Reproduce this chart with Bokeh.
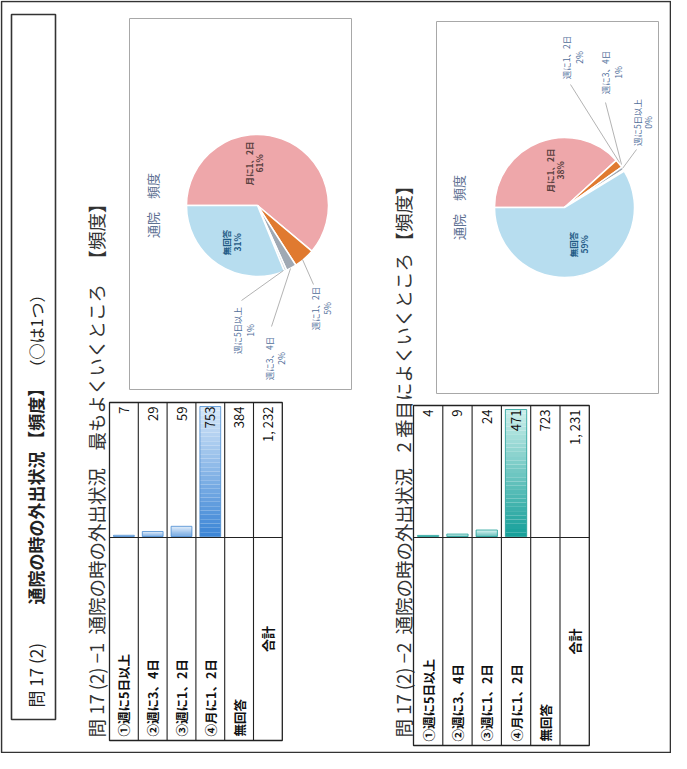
import numpy as np
from bokeh.plotting import figure
from bokeh.models import Range1d
from bokeh.core.properties import value
from bokeh.embed import file_html
from bokeh.resources import INLINE

# ---------------- data ----------------
row_labels = ["①週に5日以上", "②週に3、4日", "③週に1、2日", "④月に1、2日", "無回答"]
total_label = "合計"
counts_q1 = [7, 29, 59, 753, 384]
counts_q2 = [4, 9, 24, 471, 723]
pie_labels = ["月に1、2日", "週に1、2日", "週に3、4日", "週に5日以上", "無回答"]
pie_index = [3, 2, 1, 0, 4]          # pie slice order -> index into counts
pie_colors = ["#EEA7AA", "#E07A30", "#A0A9B4", "#D3DAE2", "#B7DDEF"]
title_parts = ["問 17 (2)", "通院の時の外出状況 【頻度】", "（○は1つ）"]
subtitle_q1 = ["問 17 (2) −1", "通院の時の外出状況", "最もよくいくところ", "【頻度】"]
subtitle_q2 = ["問 17 (2) −2", "通院の時の外出状況", "2 番目によくいくところ", "【頻度】"]
chart_title = "通院　頻度"

# ---------------- layout ----------------
W, H = 671, 753
FONT = value("Noto Sans CJK JP")
UP = np.pi / 2

p = figure(width=W, height=H, x_range=Range1d(8, 8 + W), y_range=Range1d(8, 8 + H),
           output_backend="svg", toolbar_location=None, min_border=0,
           x_axis_location=None, y_axis_location=None, outline_line_color=None,
           background_fill_color="white", border_fill_color="white")
p.grid.visible = False


def Y(py):
    return 769 - py


def box(x0, x1, py0, py1, color, lw):
    p.quad(left=[x0], right=[x1], top=[Y(py0)], bottom=[Y(py1)],
           fill_color=None, line_color=color, line_width=lw)


def vtext(xs, pys, texts, size, align="left", color="#222", style="normal"):
    p.text(x=list(xs), y=[Y(v) for v in pys], text=list(texts), angle=UP,
           text_font=FONT, text_font_size=size, text_align=align,
           text_baseline="middle", text_color=color, text_font_style=style)


def mix(c1, c2, t):
    a = np.array([int(c1[i:i + 2], 16) for i in (1, 3, 5)], float)
    b = np.array([int(c2[i:i + 2], 16) for i in (1, 3, 5)], float)
    c = a + (b - a) * t
    return "#%02x%02x%02x" % tuple(int(round(v)) for v in c)


def fmt(v):
    return f"{v:,}".replace(",", ", ")


# page border
box(9, 678, 9, 760, "#333333", 1.6)

# title box and title
box(19, 63, 22, 727, "#333333", 1.6)
vtext([43], [715], [title_parts[0]], "17px")
vtext([43], [612], [title_parts[1]], "17px", style="bold")
vtext([43], [383], [title_parts[2]], "16px")

# subtitles (segments start positions along the page)
vtext([103] * 4, [745, 642, 458, 276], subtitle_q1, "18.5px", color="#333")
vtext([410] * 4, [745, 642, 460, 258], subtitle_q2, "18.5px", color="#333")


def draw_table(left, row_h, py_top, py_div, py_bot, counts, dark, light, edge):
    n = len(counts) + 1
    xs = [left + i * row_h for i in range(n + 1)]
    right = xs[-1]
    centers = [(xs[i] + xs[i + 1]) / 2 for i in range(n)]
    # data bars (first four rows)
    vmax = max(counts[:4])
    L = (py_div - py_top) - 5
    nseg = 30
    for i in range(4):
        length = counts[i] / vmax * L
        base = Y(py_div - 1)
        ks = np.arange(nseg)
        b = base + length * ks / nseg
        t = base + length * (ks + 1) / nseg
        cols = [mix(dark, light, k / (nseg - 1)) for k in ks]
        x0 = xs[i] + 4
        x1 = xs[i + 1] - 4
        p.quad(left=[x0] * nseg, right=[x1] * nseg, bottom=list(b), top=list(t),
               fill_color=cols, line_color=None)
        p.quad(left=[x0], right=[x1], bottom=[base], top=[base + length],
               fill_color=None, line_color=edge, line_width=0.8)
    # grid
    lc = "#222222"
    box(left, right, py_top, py_bot, lc, 1.3)
    p.segment(x0=xs[1:-1], y0=[Y(py_top)] * (n - 1), x1=xs[1:-1], y1=[Y(py_bot)] * (n - 1),
              line_color=lc, line_width=1.1)
    p.segment(x0=[left], y0=[Y(py_div)], x1=[right], y1=[Y(py_div)], line_color=lc, line_width=1.1)
    # labels
    vtext(centers[:5], [py_bot - 4] * 5, row_labels, "12.5px", style="bold", color="#111")
    vtext([centers[5]], [(py_div + py_bot) / 2], [total_label], "13px", align="center",
          style="bold", color="#111")
    vals = list(counts) + [sum(counts)]
    vtext(centers, [py_top + 4] * n, [fmt(v) for v in vals], "13px", align="right", color="#111")


draw_table(117, 28.8, 410, 545, 748, counts_q1, "#3D86D6", "#D4E6F8", "#4A8BD0")
draw_table(421, 29.3, 413, 545, 753, counts_q2, "#17A09A", "#C9EEEA", "#1E9E98")


def draw_pie(cx, cy, r, counts, frame, title_x, inside, outside, leaders):
    box(frame[0], frame[1], frame[2], frame[3], "#A8A8A8", 1.0)
    vtext([title_x], [cy], [chart_title], "13px", align="center", color="#5E7193")
    vals = np.array([counts[i] for i in pie_index], float)
    fr = vals / vals.sum()
    ends = 180 - np.cumsum(fr) * 360
    starts = np.concatenate([[180.0], ends[:-1]])
    p.wedge(x=[cx] * 5, y=[Y(cy)] * 5, radius=r, start_angle=list(np.radians(ends)),
            end_angle=list(np.radians(starts)), fill_color=pie_colors,
            line_color="white", line_width=1.5)
    pct = [f"{int(round(f * 100))}%" for f in fr]
    # leader lines
    for (a, b, c, d) in leaders:
        p.line(x=[a, c], y=[Y(b), Y(d)], line_color="#A0A0A0", line_width=0.8)
    for k, (x1, x2, py) in inside.items():
        col = "#1F5A85" if k == 4 else "#5A4040"
        vtext([x1], [py], [pie_labels[k]], "8.5px", align="center", color=col, style="bold")
        vtext([x2], [py], [pct[k]], "8.5px", align="center", color=col, style="bold")
    for k, (x1, x2, py) in outside.items():
        vtext([x1], [py], [pie_labels[k]], "8.5px", align="center", color="#4F6E9A")
        vtext([x2], [py], [pct[k]], "8.5px", align="center", color="#4F6E9A")


draw_pie(265, 213, 71, counts_q1, (137, 359, 26, 397), 160,
         {0: (256, 266, 171), 4: (233, 244, 250)},
         {1: (322, 334, 316), 2: (276, 288, 366), 3: (244, 257, 338)},
         [(310, 267, 321, 292), (298, 276, 279, 334), (291, 278, 249, 308)])

draw_pie(572, 215, 70, counts_q2, (444, 666, 29, 401), 466,
         {0: (557, 567, 178), 4: (580, 591, 252)},
         {1: (573, 586, 65), 2: (612, 625, 80), 3: (644, 655, 130)},
         [(627, 170, 578, 92), (629, 172, 613, 110), (630, 176, 644, 157)])

open("out.html", "w").write(file_html(p, INLINE))
